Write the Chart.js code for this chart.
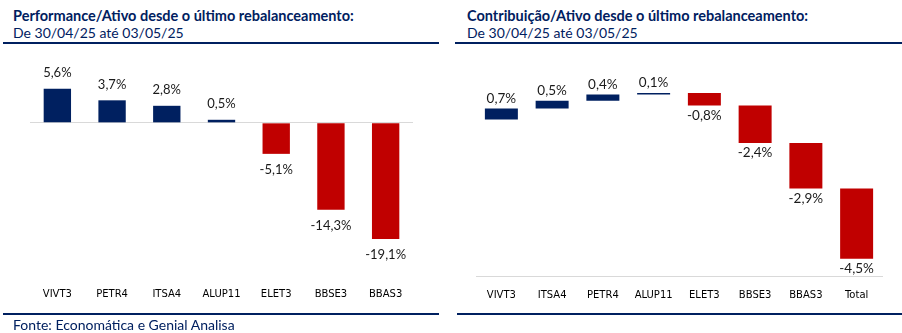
<!DOCTYPE html>
<html lang="pt-BR">
<head>
<meta charset="utf-8">
<script src="https://cdn.jsdelivr.net/npm/chart.js@4.4.1/dist/chart.umd.min.js"></script>
<style>
    html, body { margin: 0; padding: 0; background: #fff; }
    #wrap { position: relative; width: 902px; height: 333px; overflow: hidden; font-family: Lato, sans-serif; color: #002060; }
    .ttl { position: absolute; top: 7px; font-weight: bold; font-size: 14.5px; line-height: 18px; white-space: nowrap; }
    .sub { position: absolute; top: 24px; font-size: 14px; line-height: 18px; white-space: nowrap; }
    .rule { position: absolute; height: 2px; background: #002060; }
    .src { position: absolute; left: 13px; top: 317px; font-size: 14px; line-height: 16px; white-space: nowrap; }
    canvas { position: absolute; top: 45px; }
</style>
</head>
<body>
<div id="wrap">
    <canvas id="perfChart" width="440" height="280" style="left:0"></canvas>
    <canvas id="contribChart" width="452" height="280" style="left:450px"></canvas>

    <div class="ttl" style="left:13px">Performance/Ativo desde o último rebalanceamento:</div>
    <div class="sub" style="left:13px">De 30/04/25 até 03/05/25</div>
    <div class="rule" style="left:3px; width:436px; top:42px"></div>

    <div class="ttl" style="left:467px">Contribuição/Ativo desde o último rebalanceamento:</div>
    <div class="sub" style="left:467px">De 30/04/25 até 03/05/25</div>
    <div class="rule" style="left:455px; width:447px; top:42px"></div>

    <div class="rule" style="left:3px; width:436px; top:313px"></div>
    <div class="rule" style="left:457px; width:445px; top:313px"></div>
    <div class="src">Fonte: Economática e Genial Analisa</div>
</div>

<script>
// --- Dados ---
const perfLabels = ['VIVT3', 'PETR4', 'ITSA4', 'ALUP11', 'ELET3', 'BBSE3', 'BBAS3'];
const perfValues = [5.6, 3.7, 2.8, 0.5, -5.1, -14.3, -19.1];

const contribLabels = ['VIVT3', 'ITSA4', 'PETR4', 'ALUP11', 'ELET3', 'BBSE3', 'BBAS3', 'Total'];
const contribValues = [0.7, 0.5, 0.4, 0.1, -0.8, -2.4, -2.9];
const contribTotal = -4.5;

const NAVY = '#002060';
const RED = '#C00000';
const AXIS_H = 25; // altura fixa do eixo x

const fmtPct = v => v.toFixed(1).replace('.', ',') + '%';

// rótulos de valor acima/abaixo das barras (posição tirada da escala y)
const valueLabels = {
    id: 'valueLabels',
    afterDatasetsDraw(chart, args, opts) {
        const ctx = chart.ctx;
        const yScale = chart.scales.y;
        ctx.save();
        ctx.font = opts.font;
        ctx.fillStyle = opts.color;
        ctx.textAlign = 'center';
        ctx.textBaseline = 'middle';
        chart.data.datasets.forEach((ds, di) => {
            chart.getDatasetMeta(di).data.forEach((bar, i) => {
                const v = ds.labelValues[i];
                const raw = ds.data[i];
                const end = Array.isArray(raw) ? raw[1] : raw;
                const py = yScale.getPixelForValue(end);
                const y = v >= 0 ? py - opts.offset : py + opts.offset;
                ctx.fillText(fmtPct(v), bar.x, y);
            });
        });
        ctx.restore();
    }
};

// --- Gráfico 1: performance ---
new Chart(document.getElementById('perfChart'), {
    type: 'bar',
    data: {
        labels: perfLabels,
        datasets: [{
            data: perfValues,
            labelValues: perfValues,
            backgroundColor: perfValues.map(v => v >= 0 ? NAVY : RED),
            categoryPercentage: 1,
            barPercentage: 0.5
        }]
    },
    options: {
        responsive: false,
        animation: false,
        layout: { padding: { left: 30, right: 27, top: 17, bottom: 19 } },
        scales: {
            x: {
                grid: { display: false, drawTicks: false },
                border: { display: false },
                ticks: { color: '#000', padding: 7, font: { family: 'DejaVu Sans', size: 10 } },
                afterFit: s => { s.height = AXIS_H; }
            },
            y: {
                min: -26,
                max: 10,
                ticks: { display: false, stepSize: 2 },
                grid: {
                    drawTicks: false,
                    color: c => c.tick.value === 0 ? '#d9d9d9' : 'rgba(0,0,0,0)'
                },
                border: { display: false },
                afterFit: s => { s.width = 0; }
            }
        },
        plugins: {
            legend: { display: false },
            tooltip: { enabled: false },
            valueLabels: { font: '13px Lato', color: '#1a1a1a', offset: 16 }
        }
    },
    plugins: [valueLabels]
});

// --- Gráfico 2: contribuição (cascata) ---
const waterfallBars = [];
let acc = 0;
contribValues.forEach(v => {
    waterfallBars.push([acc, acc + v]);
    acc += v;
});
waterfallBars.push([acc, acc + contribTotal]);
const contribAll = contribValues.concat([contribTotal]);

new Chart(document.getElementById('contribChart'), {
    type: 'bar',
    data: {
        labels: contribLabels,
        datasets: [{
            data: waterfallBars,
            labelValues: contribAll,
            backgroundColor: contribAll.map(v => v >= 0 ? NAVY : RED),
            categoryPercentage: 1,
            barPercentage: 0.65
        }]
    },
    options: {
        responsive: false,
        animation: false,
        layout: { padding: { left: 26, right: 20, top: 12, bottom: 24 } },
        scales: {
            x: {
                grid: { display: false, drawTicks: false },
                border: { display: true, color: '#d9d9d9', width: 1 },
                ticks: { color: '#000', padding: 13, font: { family: 'DejaVu Sans', size: 10 } },
                afterFit: s => { s.height = AXIS_H; }
            },
            y: {
                display: false,
                min: -10,
                max: 4
            }
        },
        plugins: {
            legend: { display: false },
            tooltip: { enabled: false },
            valueLabels: { font: '13.5px Lato', color: '#1a1a1a', offset: 10 }
        }
    },
    plugins: [valueLabels]
});
</script>
</body>
</html>
